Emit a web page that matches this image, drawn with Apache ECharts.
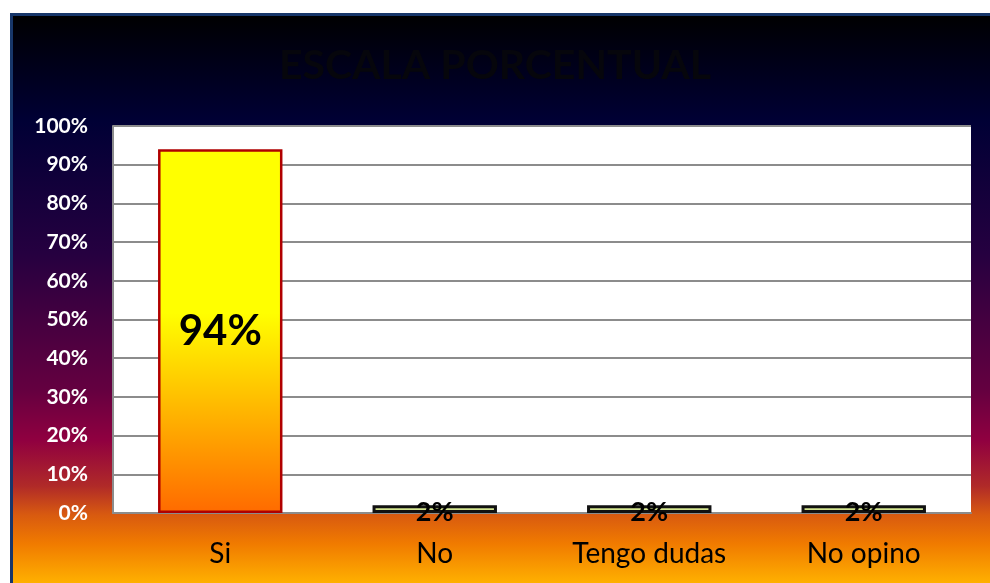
<!DOCTYPE html>
<html>
<head>
<meta charset="utf-8">
<script src="https://cdn.jsdelivr.net/npm/echarts@6/dist/echarts.min.js"></script>
<style>
  html, body { margin: 0; padding: 0; background: #fff; }
  #main { width: 990px; height: 583px; }
</style>
</head>
<body>
<div id="main"></div>
<script>
var categories = ['Si', 'No', 'Tengo dudas', 'No opino'];
var values = [94, 2, 2, 2];
var yTicks = [0, 10, 20, 30, 40, 50, 60, 70, 80, 90, 100];

var myChart = echarts.init(document.getElementById('main'));

var bigBar = {
  type: 'linear', x: 0, y: 0, x2: 0, y2: 1,
  colorStops: [
    { offset: 0, color: '#ffff00' },
    { offset: 0.45, color: '#ffff00' },
    { offset: 0.7, color: '#ffbb00' },
    { offset: 1, color: '#ff6a00' }
  ]
};

var option = {
  backgroundColor: '#ffffff',
  graphic: [
    {
      type: 'rect',
      z: -10,
      shape: { x: 10, y: 13, width: 980, height: 570 },
      style: {
        fill: {
          type: 'linear', x: 0, y: 0, x2: 0, y2: 1,
          colorStops: [
            { offset: 0, color: '#000000' },
            { offset: 0.19, color: '#000035' },
            { offset: 0.42, color: '#250040' },
            { offset: 0.66, color: '#640040' },
            { offset: 0.75, color: '#900040' },
            { offset: 0.83, color: '#b02a28' },
            { offset: 0.88, color: '#d85a10' },
            { offset: 0.93, color: '#f07a00' },
            { offset: 1, color: '#ffb000' }
          ]
        }
      }
    },
    {
      type: 'polyline',
      z: -9,
      shape: { points: [[11.5, 583], [11.5, 14.5], [990, 14.5]] },
      style: { stroke: '#17366a', lineWidth: 3, fill: null }
    }
  ],
  title: {
    text: 'ESCALA PORCENTUAL',
    left: 'center',
    top: 40,
    textStyle: {
      color: '#06060c',
      fontSize: 41,
      fontWeight: 'bold',
      fontFamily: 'Lato'
    }
  },
  grid: {
    left: 113,
    top: 126,
    right: 19,
    bottom: 70,
    show: true,
    backgroundColor: '#ffffff',
    borderWidth: 0
  },
  xAxis: {
    type: 'category',
    data: categories,
    axisLine: { show: true, lineStyle: { color: '#8c8c8c', width: 2 } },
    axisTick: { show: false },
    axisLabel: {
      color: '#000000',
      fontSize: 28,
      fontFamily: 'Lato',
      margin: 27
    }
  },
  yAxis: {
    type: 'value',
    min: 0,
    max: 100,
    interval: 10,
    axisLine: { show: true, lineStyle: { color: '#8c8c8c', width: 2 } },
    axisTick: { show: false },
    splitLine: { lineStyle: { color: '#8c8c8c', width: 2 } },
    axisLabel: {
      color: '#ffffff',
      fontSize: 21,
      fontWeight: 'bold',
      fontFamily: 'Lato',
      margin: 25,
      formatter: function (v) {
        return yTicks.indexOf(v) >= 0 ? v + '%' : '';
      }
    }
  },
  series: [
    {
      type: 'bar',
      barWidth: '58%',
      data: values.map(function (v, i) {
        if (i === 0) {
          return {
            value: v,
            itemStyle: { color: bigBar, borderColor: '#b00000', borderWidth: 2.5 },
            label: { fontSize: 42 }
          };
        }
        return {
          value: v,
          itemStyle: { color: '#d4e690', borderColor: '#111111', borderWidth: 3 },
          label: { fontSize: 27, offset: [0, 3] }
        };
      }),
      label: {
        show: true,
        position: 'inside',
        color: '#000000',
        fontWeight: 'bold',
        fontFamily: 'Lato',
        formatter: '{c}%'
      }
    }
  ]
};

myChart.setOption(option);
</script>
</body>
</html>
